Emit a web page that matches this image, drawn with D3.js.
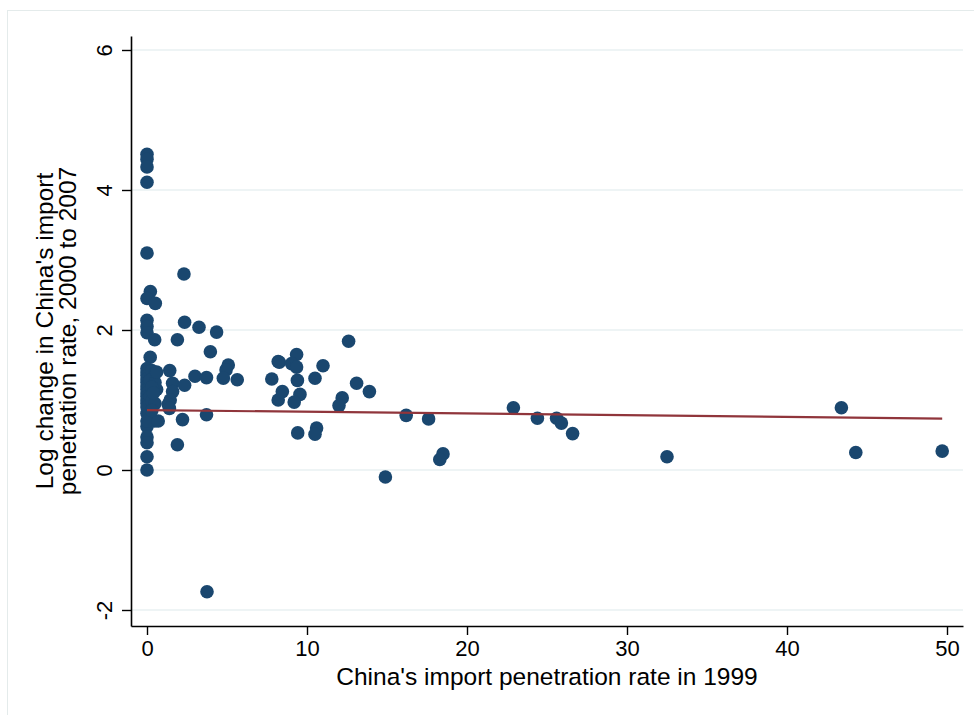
<!DOCTYPE html>
<html>
<head>
<meta charset="utf-8">
<script src="https://cdn.jsdelivr.net/npm/d3@7"></script>
<style>
  html, body { margin: 0; padding: 0; background: #ffffff; }
  svg { display: block; }
  text { font-family: "Liberation Sans", Arial, sans-serif; fill: #000; }
</style>
</head>
<body>
<svg id="chart" width="974" height="715"></svg>
<script>
// ---- data ----
const penetration1999 = [
  0, 0, 0, 0, 0, 2.31, 0.21, 0, 0.52, 0, 0, 0, 2.35, 3.25, 4.35,
  0.48, 1.9, 3.96, 0.2, 5.08, 4.94, 8.2, 1.42, 3.0, 3.72, 4.77, 5.64, 7.8,
  1.6, 2.35, 0.6, 1.6, 8.2, 1.45, 1.33, 1.4, 0.2, 3.72, 2.22, 0.46,
  0, 0, 0, 0, 0, 1.9, 0,
  0, 0, 0, 0, 0, 0, 0, 0, 0, 0, 0, 0, 0,
  0.3, 0.5, 0.4, 0.2, 0.5, 0.3, 0.6, 0.2, 0.3, 0.5, 0.7, 0.4, 0.3,
  12.6, 8.27, 9.35, 9.04, 9.35, 11.0, 9.4, 10.5, 13.1, 13.9, 8.46,
  9.56, 9.2, 12.2, 12.0, 9.42, 10.6, 10.5,
  16.2, 17.6, 14.9, 18.5, 18.3, 22.9, 24.4, 25.6, 25.9, 26.6,
  32.5, 43.4, 44.3, 49.7, 3.75
];
const logChange = [
  4.51, 4.44, 4.33, 4.11, 3.10, 2.80, 2.55, 2.45, 2.38, 2.14, 2.05, 1.96, 2.11, 2.04, 1.97,
  1.86, 1.86, 1.69, 1.61, 1.50, 1.43, 1.55, 1.42, 1.34, 1.32, 1.31, 1.29, 1.30,
  1.24, 1.21, 1.15, 1.12, 1.00, 1.00, 0.94, 0.88, 0.95, 0.79, 0.72, 0.70,
  0.81, 0.62, 0.47, 0.39, 0.19, 0.36, 0.0,
  1.45, 1.40, 1.35, 1.30, 1.25, 1.20, 1.15, 1.10, 1.05, 1.00, 0.95, 0.90, 0.70,
  1.42, 1.38, 1.30, 1.28, 1.25, 1.18, 1.40, 1.05, 0.98, 0.95, 0.70, 1.10, 0.85,
  1.84, 1.54, 1.65, 1.52, 1.47, 1.49, 1.28, 1.31, 1.24, 1.12, 1.12,
  1.08, 0.97, 1.03, 0.92, 0.53, 0.60, 0.51,
  0.78, 0.73, -0.10, 0.23, 0.15, 0.89, 0.74, 0.74, 0.67, 0.52,
  0.19, 0.89, 0.25, 0.27, -1.74
];

const fitX = [0, 49.7];
const fitY = [0.856, 0.735];

const xTicks = [0, 10, 20, 30, 40, 50];
const yTicks = [-2, 0, 2, 4, 6];
const xTitle = "China's import penetration rate in 1999";
const yTitleLines = ["Log change in China's import", "penetration rate, 2000 to 2007"];

// ---- layout ----
const svg = d3.select("#chart");
const mLeft = 131, mRight = 963, mTop = 36, mBottom = 626;

const x = d3.scaleLinear().domain([-1, 51]).range([mLeft, mRight]);
const y = d3.scaleLinear().domain([-2.2286, 6.2]).range([mBottom, mTop]);

// outer graph region outline
svg.append("rect")
  .attr("x", 7.5).attr("y", 10.5).attr("width", 1000).attr("height", 760)
  .attr("fill", "none").attr("stroke", "#e4ebeb").attr("stroke-width", 1);

// gridlines
svg.append("g").selectAll("line").data(yTicks).join("line")
  .attr("x1", mLeft).attr("x2", mRight)
  .attr("y1", d => y(d)).attr("y2", d => y(d))
  .attr("stroke", "#e8f0f2").attr("stroke-width", 1.5);

// points
const pts = penetration1999.map((v, i) => ({x: v, y: logChange[i]}));
svg.append("g").selectAll("circle").data(pts).join("circle")
  .attr("cx", d => x(d.x)).attr("cy", d => y(d.y)).attr("r", 6.8)
  .attr("fill", "#1a476f");

// fitted line
svg.append("line")
  .attr("x1", x(fitX[0])).attr("y1", y(fitY[0]))
  .attr("x2", x(fitX[1])).attr("y2", y(fitY[1]))
  .attr("stroke", "#90353b").attr("stroke-width", 2.2);

const fmt = d => String(d);

// x axis
const xAxis = d3.axisBottom(x).tickValues(xTicks).tickFormat(fmt).tickSize(9).tickPadding(5).tickSizeOuter(0);
const gx = svg.append("g").attr("transform", `translate(0,${mBottom})`).call(xAxis);
gx.select(".domain").attr("stroke", "#000").attr("stroke-width", 1.6);
gx.selectAll(".tick line").attr("stroke", "#000").attr("stroke-width", 1.4);
gx.selectAll(".tick text").attr("font-size", 22).attr("font-family", "Liberation Sans, Arial, sans-serif").attr("fill", "#000");

// y axis
const yAxis = d3.axisLeft(y).tickValues(yTicks).tickFormat(fmt).tickSize(9).tickPadding(8).tickSizeOuter(0);
const gy = svg.append("g").attr("transform", `translate(${mLeft},0)`).call(yAxis);
gy.select(".domain").attr("stroke", "#000").attr("stroke-width", 1.6);
gy.selectAll(".tick line").attr("stroke", "#000").attr("stroke-width", 1.4);
gy.selectAll(".tick text")
  .attr("font-size", 22).attr("font-family", "Liberation Sans, Arial, sans-serif").attr("fill", "#000")
  .attr("text-anchor", "middle").attr("dy", null).attr("x", null)
  .attr("transform", "translate(-19,0) rotate(-90)");

// titles
svg.append("text")
  .attr("x", (mLeft + mRight) / 2).attr("y", 685)
  .attr("text-anchor", "middle").attr("font-size", 24.5)
  .text(xTitle);

const yMid = (mTop + mBottom) / 2;
yTitleLines.forEach((t, i) => {
  svg.append("text")
    .attr("transform", `translate(${53 + i * 23},${yMid}) rotate(-90)`)
    .attr("text-anchor", "middle").attr("font-size", 24.5)
    .text(t);
});
</script>
</body>
</html>
